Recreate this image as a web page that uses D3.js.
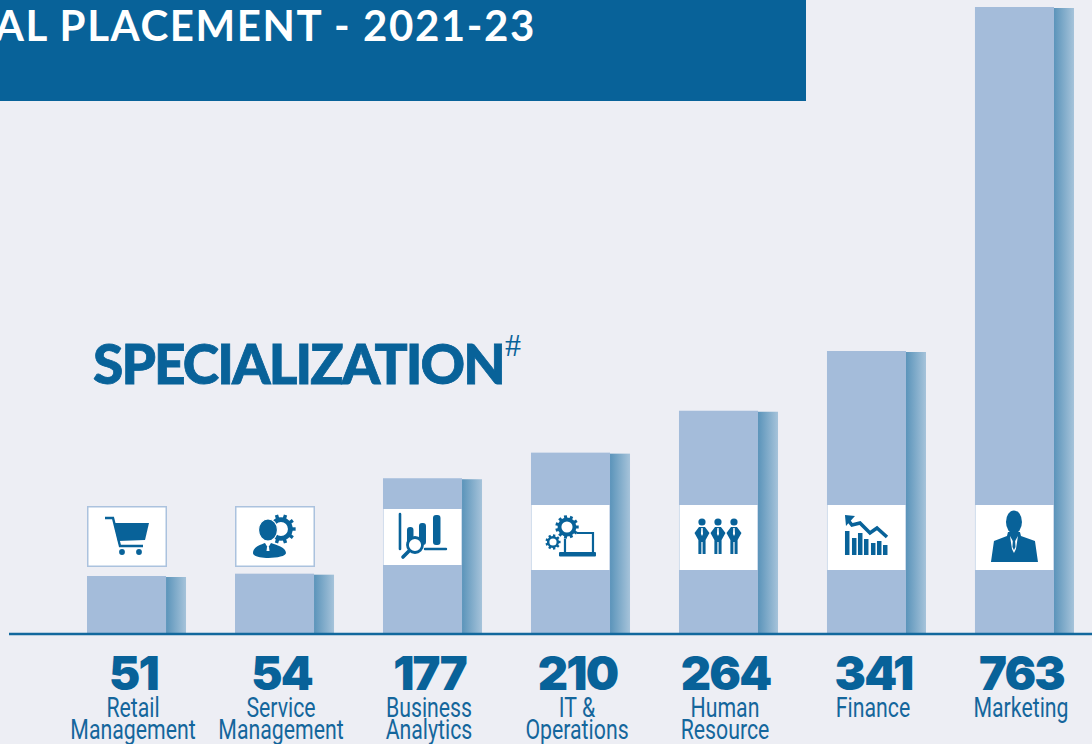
<!DOCTYPE html>
<html>
<head>
<meta charset="utf-8">
<title>Specialization placement</title>
<script src="https://cdn.jsdelivr.net/npm/d3@7/dist/d3.min.js"></script>
<style>
html, body { margin: 0; padding: 0; background: #edeef4; overflow: hidden; }
svg { display: block; }
text { font-family: Lato, sans-serif; }
</style>
</head>
<body>
<div id="chart"></div>
<script>
var specializations = ['Retail Management', 'Service Management', 'Business Analytics', 'IT & Operations', 'Human Resource', 'Finance', 'Marketing'];
var labelLines = [['Retail', 'Management'], ['Service', 'Management'], ['Business', 'Analytics'], ['IT &', 'Operations'], ['Human', 'Resource'], ['Finance'], ['Marketing']];
var placements = [51, 54, 177, 210, 264, 341, 763];
var iconNames = ['cart', 'service', 'analytics', 'it', 'people', 'finance', 'manager'];

var w = 1092,
    h = 744,
    baseline = 633,
    sideW = 20,
    blue = '#086299',
    barFill = '#a4bcda';

var svg = d3.select('#chart').append('svg').attr('width', w).attr('height', h);

var grad = svg.append('defs').append('linearGradient').attr('id', 'side');
grad.append('stop').attr('offset', '0%').attr('stop-color', '#5b94ba');
grad.append('stop').attr('offset', '100%').attr('stop-color', '#a6c3da');

svg.append('rect').attr('width', w).attr('height', h).attr('fill', '#edeef4');

// bands line up with the 79px front faces
var x = d3.scaleBand().domain(specializations).range([87, 1054]).paddingInner(0.466).paddingOuter(0);
// the printed bars are not quite to scale, so this one bends at Finance
var y = d3.scaleLinear().domain([51, 341, 763]).range([576, 351, 7]);

svg.append('rect').attr('width', 806).attr('height', 101).attr('fill', blue);
svg.append('text')
  .attr('x', 536).attr('y', 41)
  .attr('text-anchor', 'end')
  .attr('fill', '#fff')
  .attr('font-size', 42).attr('font-weight', 700).attr('letter-spacing', 1.6)
  .text('AL PLACEMENT - 2021-23');

svg.append('text')
  .attr('x', 93).attr('y', 384)
  .attr('fill', blue).attr('stroke', blue).attr('stroke-width', 0.8)
  .attr('font-size', 55).attr('font-weight', 900).attr('letter-spacing', -1.9)
  .text('SPECIALIZATION');
svg.append('text')
  .attr('x', 505).attr('y', 356)
  .attr('fill', blue)
  .attr('font-size', 32)
  .style('font-family', '"Liberation Serif", serif')
  .text('#');

var bars = svg.selectAll('.bar').data(specializations).enter().append('g').attr('class', 'bar');

bars.append('rect')
  .attr('x', function(d) { return x(d) + x.bandwidth(); })
  .attr('y', function(d, i) { return y(placements[i]) + 1; })
  .attr('width', sideW)
  .attr('height', function(d, i) { return baseline - y(placements[i]) - 1; })
  .attr('fill', 'url(#side)');

bars.append('rect')
  .attr('x', function(d) { return x(d); })
  .attr('y', function(d, i) { return y(placements[i]); })
  .attr('width', x.bandwidth())
  .attr('height', function(d, i) { return baseline - y(placements[i]); })
  .attr('fill', barFill);

svg.append('line')
  .attr('x1', 9).attr('x2', w)
  .attr('y1', baseline + 1).attr('y2', baseline + 1)
  .attr('stroke', '#12689d').attr('stroke-width', 2.5);

// value and name under each bar, shifted to sit under front face + side
bars.append('text')
  .attr('x', function(d) { return x(d) + x.bandwidth() / 2 + 7; })
  .attr('y', 690)
  .attr('text-anchor', 'middle')
  .attr('fill', blue)
  .attr('font-size', 47).attr('font-weight', 900).attr('letter-spacing', -1.8)
  .style('font-family', 'Inter, sans-serif')
  .text(function(d, i) { return placements[i]; });

labelLines.forEach(function(lines, i) {
  lines.forEach(function(line, k) {
    svg.append('text')
      .attr('transform', 'translate(' + (x(specializations[i]) + x.bandwidth() / 2 + 6.5) + ',' + (717 + k * 22) + ') scale(0.76,1)')
      .attr('text-anchor', 'middle')
      .attr('fill', '#14669c')
      .attr('font-size', 28).attr('font-weight', 400)
      .style('font-family', 'Roboto, sans-serif')
      .text(line);
  });
});

function gear(g, cx, cy, r, teeth, sw) {
  d3.range(teeth).forEach(function(k) {
    var a = k / teeth * 2 * Math.PI;
    g.append('line')
      .attr('x1', cx + Math.cos(a) * r * 0.8).attr('y1', cy + Math.sin(a) * r * 0.8)
      .attr('x2', cx + Math.cos(a) * r * 1.22).attr('y2', cy + Math.sin(a) * r * 1.22)
      .attr('stroke', blue).attr('stroke-width', sw);
  });
  g.append('circle').attr('cx', cx).attr('cy', cy).attr('r', r * 0.78)
    .attr('fill', 'none').attr('stroke', blue).attr('stroke-width', r * 0.4);
}

function person(g, cx) {
  g.append('circle').attr('cx', cx).attr('cy', 17).attr('r', 3.6);
  g.append('path').attr('d', 'M' + (cx - 3) + ' 22 L' + (cx + 3) + ' 22 L' + (cx + 7.5) + ' 28 L' + (cx + 3.6) + ' 35 L' + (cx + 3.6) + ' 49 L' + (cx + 0.6) + ' 49 L' + (cx + 0.6) + ' 37 L' + (cx - 0.6) + ' 37 L' + (cx - 0.6) + ' 49 L' + (cx - 3.6) + ' 49 L' + (cx - 3.6) + ' 35 L' + (cx - 7.5) + ' 28 Z');
  g.append('path').attr('d', 'M' + (cx - 0.7) + ' 23 L' + (cx + 0.7) + ' 23 L' + (cx + 1) + ' 29 L' + cx + ' 31 L' + (cx - 1) + ' 29 Z').attr('fill', '#fff');
}

var icons = {
  cart: function(g) {
    g.append('path').attr('d', 'M18 12 L26 12 L33 40 L56 40').attr('fill', 'none').attr('stroke', blue).attr('stroke-width', 2.4);
    g.append('path').attr('d', 'M27 17 L62 17 L58 34 L31 35 Z');
    g.append('circle').attr('cx', 35).attr('cy', 46).attr('r', 2.9);
    g.append('circle').attr('cx', 52).attr('cy', 46).attr('r', 2.9);
  },
  service: function(g) {
    gear(g, 46, 23, 12, 10, 3.4);
    g.append('ellipse').attr('cx', 33).attr('cy', 24).attr('rx', 9.5).attr('ry', 11).attr('stroke', '#fff').attr('stroke-width', 1.2);
    g.append('path').attr('d', 'M18 47 C18 41 25 39 30 37 L33 42 L36 37 C41 39 51 41 51 47 C51 53 18 54 18 47 Z');
    g.append('path').attr('d', 'M32 41 L34 41 L34.5 45 L31.5 45 Z').attr('fill', '#fff');
  },
  analytics: function(g) {
    g.append('path').attr('d', 'M17 5 L17 40').attr('stroke', blue).attr('stroke-width', 2.6).attr('stroke-linecap', 'round');
    g.append('path').attr('d', 'M42 40 L63 40').attr('stroke', blue).attr('stroke-width', 2.4).attr('stroke-linecap', 'round');
    g.append('rect').attr('x', 24).attr('y', 18).attr('width', 6.5).attr('height', 18).attr('rx', 3);
    g.append('rect').attr('x', 36).attr('y', 14).attr('width', 7).attr('height', 22).attr('rx', 3);
    g.append('rect').attr('x', 50).attr('y', 6).attr('width', 7.5).attr('height', 30).attr('rx', 3);
    g.append('circle').attr('cx', 32).attr('cy', 36).attr('r', 7.5).attr('fill', '#fff').attr('stroke', blue).attr('stroke-width', 2.8);
    g.append('path').attr('d', 'M26 42 L20 48').attr('stroke', blue).attr('stroke-width', 3.6).attr('stroke-linecap', 'round');
  },
  it: function(g) {
    g.append('path').attr('d', 'M34 34 L34 47 M46 28 L62 28 L62 48').attr('fill', 'none').attr('stroke', blue).attr('stroke-width', 2.2);
    g.append('rect').attr('x', 28).attr('y', 47).attr('width', 37).attr('height', 4.5).attr('rx', 1);
    gear(g, 36, 22, 9.6, 11, 3);
    gear(g, 22, 37, 6.2, 9, 2.4);
  },
  people: function(g) {
    person(g, 23);
    person(g, 39);
    person(g, 55);
  },
  finance: function(g) {
    [[18, 26], [25, 33], [31, 28], [37, 34], [44, 38], [50, 36], [56, 40]].forEach(function(b) {
      g.append('rect').attr('x', b[0]).attr('y', b[1]).attr('width', 4.5).attr('height', 50 - b[1]);
    });
    g.append('path').attr('d', 'M21 15 L25 20 L33 18 L43 28 L50 23 L60 32').attr('fill', 'none').attr('stroke', blue).attr('stroke-width', 3.6);
    g.append('path').attr('d', 'M18 10 L28 11 L19 21 Z');
  },
  manager: function(g) {
    g.append('ellipse').attr('cx', 39).attr('cy', 17).attr('rx', 8).attr('ry', 11.5);
    g.append('path').attr('d', 'M33 27 L45 27 L46 31 L60 36 L63 57 L16 57 L19 36 L32 31 Z');
    g.append('path').attr('d', 'M35 31 L39 38 L43 31 L41 44 L39 48 L37 44 Z').attr('fill', '#fff');
    g.append('path').attr('d', 'M38 33 L40 33 L40.5 42 L39 45 L37.5 42 Z');
  }
};

// icon panels: the two short bars have a framed one floating above the bar
var panelTop = { cart: 506, service: 506, analytics: 509, it: 505, people: 505, finance: 505, manager: 505 };
var panelH = { cart: 61, service: 61, analytics: 56, it: 65, people: 65, finance: 65, manager: 65 };

iconNames.forEach(function(name, i) {
  var px = x(specializations[i]),
      g = svg.append('g').attr('transform', 'translate(' + px + ',' + panelTop[name] + ')');
  var framed = name == 'cart' || name == 'service';
  g.append('rect')
    .attr('x', framed ? 0.75 : 0.5).attr('y', framed ? 0.75 : 0)
    .attr('width', framed ? 78.5 : 78).attr('height', framed ? 59.5 : panelH[name])
    .attr('fill', '#fff')
    .attr('stroke', framed ? '#abc2de' : 'none').attr('stroke-width', 1.5);
  icons[name](g.append('g').attr('fill', blue).attr('stroke', 'none'));
});
</script>
</body>
</html>
